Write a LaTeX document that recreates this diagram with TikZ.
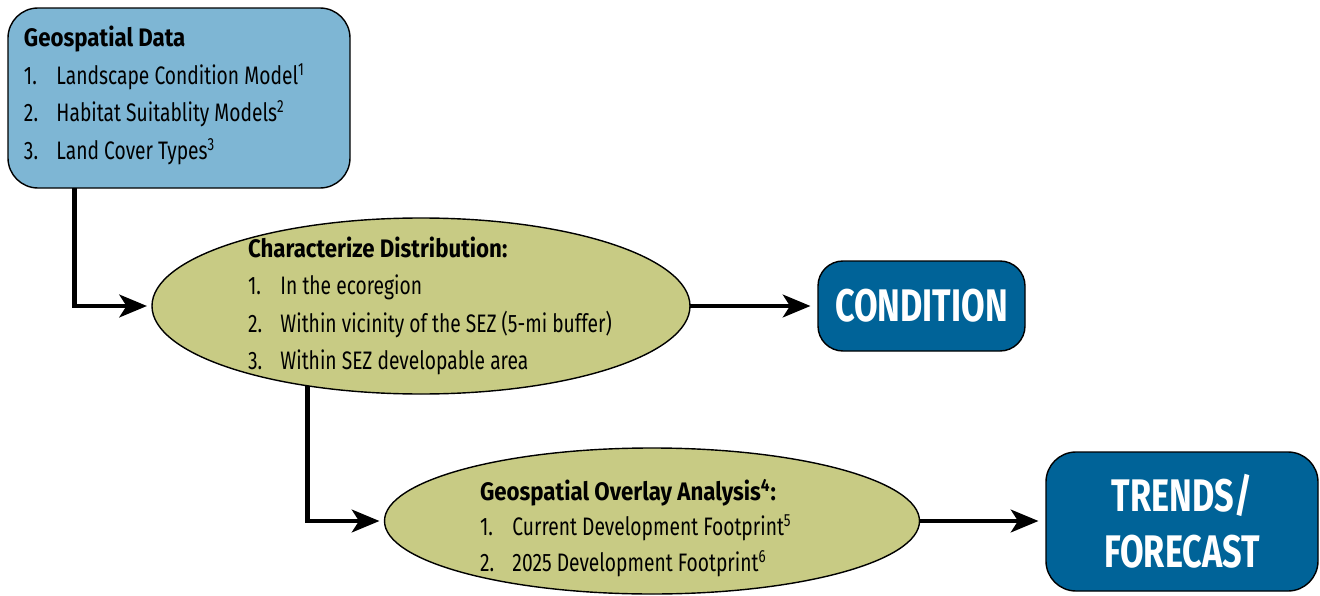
\documentclass[tikz,border=0pt]{standalone}
\usepackage{fontspec}
\setmainfont{Fira Sans}[FakeStretch=0.76, BoldFeatures={FakeStretch=0.88}]
\newfontfamily\resultfont{Fira Sans}[FakeStretch=0.75]
\usetikzlibrary{arrows.meta, backgrounds, calc, positioning, shapes}

\definecolor{datablue}{RGB}{126,182,212}
\definecolor{olive}{RGB}{200,203,132}
\definecolor{darkblue}{RGB}{0,99,152}

\newcommand{\litem}[2]{\makebox[0.65cm][l]{#1}#2}

\begin{document}
\begin{tikzpicture}[font=\fontsize{14.4}{21.3}\selectfont]
\tikzset{every node/.style={inner sep=1mm, outer sep=0mm}}

\tikzstyle{data}=[rectangle,rounded corners=0.6cm,draw=black,fill=datablue,line width=0.8pt,minimum width=6.84cm,minimum height=3.6cm]
\tikzstyle{analysis}=[ellipse,draw=black,fill=olive,line width=0.8pt]
\tikzstyle{result}=[rectangle,rounded corners=0.5cm,draw=black,fill=darkblue,line width=0.8pt,text=white,font=\fontsize{26}{32}\selectfont\resultfont\bfseries,align=center]
\tikzstyle{list}=[align=left,anchor=west,inner sep=0mm]
\tikzstyle{post}=[-{Stealth[length=0.55cm,width=0.45cm,inset=0.14cm]},line width=2.8pt]

\useasboundingbox (0,0) rectangle (26.4,-11.92);

\node[data] (geo data) at (3.58,-1.96) {};
\node[list] (data text) at (0.48,-1.91) {\textbf{Geospatial Data}\\
  \litem{1.}{Landscape Condition Model\textsuperscript{1}}\\
  \litem{2.}{Habitat Suitablity Models\textsuperscript{2}}\\
  \litem{3.}{Land Cover Types\textsuperscript{3}}};

\node[analysis, minimum width=10.76cm, minimum height=3.52cm] (distribution) at (8.42,-6.12) {};
\node[list] (distribution text) at (4.96,-6.12) {\textbf{Characterize Distribution:}\\
  \litem{1.}{In the ecoregion}\\
  \litem{2.}{Within vicinity of the SEZ (5-mi buffer)}\\
  \litem{3.}{Within SEZ developable area}};

\node[result, minimum width=4.14cm, minimum height=1.8cm] (condition) at (18.43,-6.12) {CONDITION};

\node[analysis, minimum width=10.7cm, minimum height=2.92cm] (overlay) at (13.04,-10.42) {};
\node[list, font=\fontsize{14.4}{20.1}\selectfont] (overlay text) at (9.6,-10.56) {\textbf{Geospatial Overlay Analysis\textsuperscript{4}:}\\
  \litem{1.}{Current Development Footprint\textsuperscript{5}}\\
  \litem{2.}{2025 Development Footprint\textsuperscript{6}}};

\node[result, minimum width=5.44cm, minimum height=2.78cm, rounded corners=0.6cm] (trends) at (23.64,-10.43) {TRENDS/\\FORECAST};

% connectors
\coordinate (data drop) at ($(geo data.south west)!0.195!(geo data.south east)$);
\draw[post] (data drop) |- ($(distribution.west)+(-0.1,0)$);
\draw[post] (distribution.215) |- ($(overlay.west)+(-0.1,0)$);
\draw[post] (distribution.east) -- ($(condition.west)+(-0.15,0)$);
\draw[post] (overlay.east) -- ($(overlay.east -| trends.west)+(-0.15,0)$);

\end{tikzpicture}
\end{document}
